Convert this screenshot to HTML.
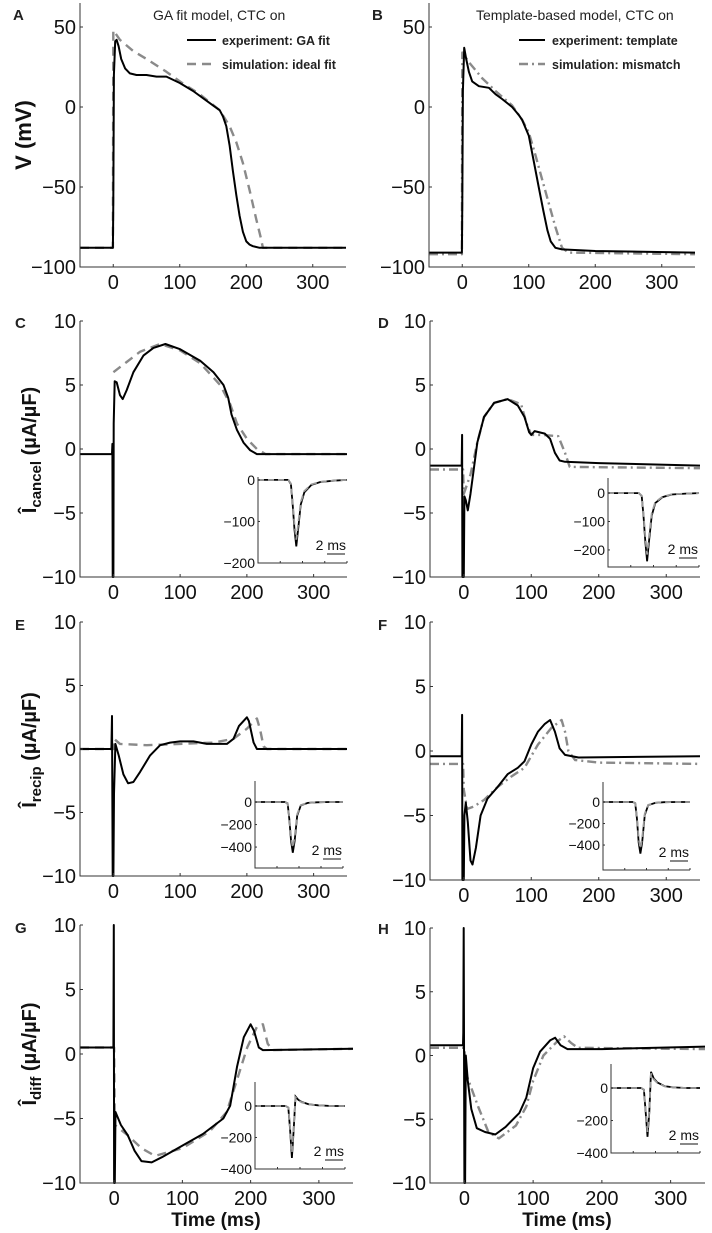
<!DOCTYPE html>
<html><head><meta charset="utf-8"><style>
html,body{margin:0;padding:0;background:#fff}
svg{display:block;font-family:"Liberation Sans",sans-serif}
</style></head><body>
<svg id="fig" width="712" height="1233" viewBox="0 0 712 1233" xmlns="http://www.w3.org/2000/svg"></svg>
<script>
const xTicks=[0,100,200,300];
const vTicks=[50,0,-50,-100];
const iTicks=[10,5,0,-5,-10];
const tickLabelsV=["50","0","\u221250","\u2212100"];
const tickLabelsI=["10","5","0","\u22125","\u221210"];

const tA_exp=[-50,-0.5,0,1,3,5,8,12,18,25,35,50,65,80,100,120,140,150,160,165,170,175,180,185,190,195,200,205,210,220,250,300,350];
const vA_exp=[-88,-88,-60,20,41,42,38,30,24,21,20,20,19,19,15,10,4,1,-2,-6,-12,-24,-40,-55,-68,-78,-84,-86,-87,-88,-88,-88,-88];
const tA_sim=[-50,-0.5,0,10,30,50,80,100,130,160,175,185,195,205,215,222,225,350];
const vA_sim=[-88,-88,48,42,35,30,22,16,8,-2,-12,-22,-35,-52,-70,-82,-88,-88];

const tB_exp=[-50,-0.5,0,1,3,6,10,15,25,40,50,60,75,85,90,100,108,115,122,128,133,140,150,200,350];
const vB_exp=[-91,-91,-60,10,37,30,22,16,13,12,8,5,0,-5,-8,-18,-35,-50,-65,-77,-84,-88,-89,-90,-91];
const tB_sim=[-50,-0.5,0,10,30,50,75,90,100,110,120,130,140,150,160,350];
const vB_sim=[-92,-92,34,28,18,10,1,-8,-16,-30,-45,-60,-75,-88,-91,-92];

const tC_exp=[-50,-2,-1.5,-1,0,0.5,2,5,10,14,20,30,45,60,78,100,130,150,165,172,177,185,195,205,215,350];
const vC_exp=[-0.4,-0.4,0.4,-10,-10,2,5.3,5.2,4.2,3.9,4.6,6,7.3,7.9,8.2,7.8,6.9,6,5,4,2.7,1.5,0.5,-0.1,-0.4,-0.4];
const tC_sim=[0,20,40,70,100,130,160,175,185,200,215,228,350];
const vC_sim=[6,6.8,7.6,8.2,7.7,6.7,5,3.5,2,0.8,0,-0.4,-0.4];

const tD_exp=[-50,-3,-2.5,-2,0,1,3,6,10,15,20,30,45,65,80,90,97,100,105,120,128,135,142,150,200,350];
const vD_exp=[-1.3,-1.3,1.1,-10,-10,-3.7,-4,-4.8,-3.5,-1.5,0.5,2.5,3.6,3.9,3.4,2.5,1.3,1.1,1.4,1.2,0.8,-0.3,-0.9,-1.0,-1.1,-1.3];
const tD_sim=[-50,-1,0,10,20,30,45,65,85,93,100,115,140,150,157,350];
const vD_sim=[-1.6,-1.6,-3.5,-2,0.5,2.5,3.6,3.9,3.5,2,1.1,1.1,1.0,-0.3,-1.4,-1.5];

const tE_exp=[-50,-3,-2,-1,0,1,3,8,15,22,30,40,55,70,85,100,120,140,170,180,188,200,203,210,215,350];
const vE_exp=[0,0,2.6,-10,-10,-3.5,0.4,-0.5,-2,-2.7,-2.6,-1.8,-0.5,0.3,0.5,0.6,0.6,0.4,0.4,0.8,1.8,2.5,2.2,0.5,0,0];
const tE_sim=[-50,0,1,10,50,100,150,180,200,215,220,225,230,350];
const vE_sim=[0,0,0.8,0.4,0.3,0.4,0.5,0.8,1.6,2.4,1.5,0.2,0,0];

const tF_exp=[-50,-3,-2.5,-2,0,1,3,6,10,13,18,25,35,50,65,80,90,100,110,120,128,135,142,150,170,350];
const vF_exp=[-0.4,-0.4,2.8,-10,-10,-5,-4,-5.5,-8.5,-8.8,-7.5,-5,-3.7,-2.8,-1.8,-1.3,-0.8,0.5,1.5,2.1,2.4,1.5,0.2,-0.3,-0.5,-0.4];
const tF_sim=[-50,-1,0,5,15,30,50,70,90,110,130,145,150,155,165,200,350];
const vF_sim=[-1,-1,-3,-4.5,-4.3,-3.8,-2.8,-2,-1.3,0.5,1.8,2.4,1.5,0,-0.7,-0.9,-1];

const tG_exp=[-50,-1,-0.5,0,1,2,10,20,30,40,55,70,100,130,160,170,175,180,190,200,205,212,218,350];
const vG_exp=[0.5,0.5,10,-10,-10,-4.5,-5.5,-6.3,-7.5,-8.3,-8.4,-8,-7.1,-6.2,-5,-4,-2.5,-1,1.3,2.3,1.8,0.5,0.3,0.4];
const tG_sim=[-50,0,1,20,40,60,100,140,165,180,195,210,218,225,232,350];
const vG_sim=[0.5,0.5,-5.5,-6.3,-7.3,-7.9,-7.3,-6,-4.5,-2,0.5,2.2,2.3,0.8,0.3,0.4];

const tH_exp=[-50,-2,-1.5,-1,0,1,2,5,10,18,30,45,60,80,90,100,110,125,132,140,150,200,350];
const vH_exp=[0.8,0.8,1.8,10,-10,-10,0,-2,-4.2,-5.7,-6,-6.2,-5.6,-4.5,-3.3,-1,0.3,1.2,1.4,0.8,0.5,0.5,0.7];
const tH_sim=[-50,0,3,20,35,50,75,90,100,115,135,145,155,165,350];
const vH_sim=[0.6,0.6,-1.5,-4,-6,-6.5,-5.5,-4,-2,0,1.1,1.5,1,0.6,0.5];

const tIn=[0,3.4,3.7,3.9,4.1,4.3,4.5,4.8,5.2,6,7,8.5,10];
const vInC=[0,0,-10,-60,-120,-160,-120,-60,-30,-12,-5,-2,0];
const vInD=[0,0,-10,-80,-170,-240,-170,-80,-35,-14,-5,-2,0];
const vInE=[0,0,-10,-150,-350,-450,-350,-120,-30,-8,-2,0,0];
const vInF=[0,0,-10,-150,-380,-480,-380,-120,-30,-8,-2,0,0];
const tInDiff=[0,3.4,3.7,3.9,4.1,4.3,4.5,4.8,5.2,6,7,8.5,10];
const vInG=[0,0,-10,-150,-330,-150,60,40,25,10,4,0,0];
const vInH=[0,0,-10,-150,-300,-150,100,60,35,12,4,0,0];

const NS="http://www.w3.org/2000/svg";
const svg=document.getElementById('fig');
function mk(tag,attrs,parent){const e=document.createElementNS(NS,tag);for(const k in attrs)e.setAttribute(k,attrs[k]);(parent||svg).appendChild(e);return e;}
function scale(d0,d1,p0,p1){return v=>p0+(v-d0)/(d1-d0)*(p1-p0);}

function panel(id,cfg){
  const g=mk('g',{});
  
  
  const X=scale(-50,350,cfg.x0,cfg.x1), Y=scale(cfg.ymax,cfg.ymin,cfg.y0,cfg.y1);
  const cx=v=>Math.max(cfg.y0,Math.min(cfg.y1,Y(v)));
  function line(ts,vs,opts,name){
    let d='';ts.forEach((t,i)=>{d+=(i?'L':'M')+X(t).toFixed(1)+','+cx(vs[i]).toFixed(1);});
    const p=mk('path',Object.assign({d:d,fill:'none','stroke-linejoin':'round'},opts),g);
    
    
  }
  line(cfg.ts,cfg.vs,{stroke:'#8a8a8a','stroke-width':2.4,'stroke-dasharray':cfg.dash},'simulation-line');
  line(cfg.te,cfg.ve,{stroke:'#000','stroke-width':2},'experiment-line');
  const ax=mk('path',{d:`M${cfg.x0},${cfg.y0}V${cfg.y1}H${cfg.x1}`,fill:'none',stroke:'#333','stroke-width':1},g);
  
  
  xTicks.forEach(t=>{
    mk('line',{x1:X(t),x2:X(t),y1:cfg.y1,y2:cfg.y1-3,stroke:'#333'},g);
    const tx=mk('text',{x:X(t),y:cfg.y1+22,'font-size':20,'text-anchor':'middle',fill:'#111'},g);
    tx.textContent=t;
    
    
  });
  cfg.yt.forEach((v,i)=>{
    mk('line',{x1:cfg.x0,x2:cfg.x0+3,y1:Y(v),y2:Y(v),stroke:'#333'},g);
    const tx=mk('text',{x:cfg.x0-4,y:Y(v)+7,'font-size':20,'text-anchor':'end',fill:'#111'},g);
    tx.textContent=cfg.yl[i];
    
    
  });
  const L=mk('text',{x:cfg.lx,y:cfg.ly,'font-size':15,'font-weight':'bold',fill:'#222'},g);
  L.textContent=id;
  
  
  if(cfg.inset){
    const n=cfg.inset;
    const ig=mk('g',{},g);
    
    
    const IX=scale(0,10,n.x0,n.x1), IY=scale(n.ymax,n.ymin,n.y0,n.y1);
    function il(vs,opts){let d='';n.t.forEach((t,i)=>{d+=(i?'L':'M')+IX(t).toFixed(1)+','+IY(vs[i]).toFixed(1);});mk('path',Object.assign({d:d,fill:'none'},opts),ig);}
    il(n.v,{stroke:'#000','stroke-width':1.8});
    il(n.v.map(v=>v*0.9),{stroke:'#999','stroke-width':1.8,'stroke-dasharray':'6,4'});
    mk('path',{d:`M${n.x0},${n.y0}V${n.y1}H${n.x1}`,fill:'none',stroke:'#333'},ig);
    [0,2.5,5,7.5,10].forEach(t=>mk('line',{x1:IX(t),x2:IX(t),y1:n.y1,y2:n.y1-2,stroke:'#333'},ig));
    n.yt.forEach(v=>{
      mk('line',{x1:n.x0,x2:n.x0+2,y1:IY(v),y2:IY(v),stroke:'#333'},ig);
      const tx=mk('text',{x:n.x0-3,y:IY(v)+5,'font-size':14,'text-anchor':'end',fill:'#111'},ig);
      tx.textContent=v<0?'\u2212'+(-v):String(v);
      
      
    });
    const sb=mk('line',{x1:n.x1-20,x2:n.x1-2,y1:n.y1-9,y2:n.y1-9,stroke:'#111','stroke-width':1},ig);
    
    
    const st=mk('text',{x:n.x1-1,y:n.y1-13,'font-size':14,'text-anchor':'end',fill:'#111'},ig);
    st.textContent='2 ms';
    
    
  }
}

const dashG='9,6', dashT='9,4,2,4';
panel('A',{x0:80,x1:346,y0:3,y1:267,ymax:65,ymin:-100,yt:vTicks,yl:tickLabelsV,te:tA_exp,ve:vA_exp,ts:tA_sim,vs:vA_sim,dash:dashG,lx:13,ly:20});
panel('B',{x0:429,x1:695,y0:3,y1:267,ymax:65,ymin:-100,yt:vTicks,yl:tickLabelsV,te:tB_exp,ve:vB_exp,ts:tB_sim,vs:vB_sim,dash:dashT,lx:372,ly:20});
panel('C',{x0:80,x1:347,y0:321,y1:577,ymax:10,ymin:-10,yt:iTicks,yl:tickLabelsI,te:tC_exp,ve:vC_exp,ts:tC_sim,vs:vC_sim,dash:dashG,lx:15,ly:328,
  inset:{x0:258,x1:347,y0:477,y1:563,ymax:7,ymin:-200,yt:[0,-100,-200],t:tIn,v:vInC}});
panel('D',{x0:430,x1:700,y0:321,y1:577,ymax:10,ymin:-10,yt:iTicks,yl:tickLabelsI,te:tD_exp,ve:vD_exp,ts:tD_sim,vs:vD_sim,dash:dashT,lx:378,ly:328,
  inset:{x0:608,x1:699,y0:478,y1:567,ymax:53,ymin:-260,yt:[0,-100,-200],t:tIn,v:vInD}});
panel('E',{x0:80,x1:347,y0:622,y1:876,ymax:10,ymin:-10,yt:iTicks,yl:tickLabelsI,te:tE_exp,ve:vE_exp,ts:tE_sim,vs:vE_sim,dash:dashG,lx:15,ly:630,
  inset:{x0:255,x1:343,y0:781,y1:868,ymax:187,ymin:-586,yt:[0,-200,-400],t:tIn,v:vInE}});
panel('F',{x0:430,x1:700,y0:622,y1:880,ymax:10,ymin:-10,yt:iTicks,yl:tickLabelsI,te:tF_exp,ve:vF_exp,ts:tF_sim,vs:vF_sim,dash:dashT,lx:378,ly:630,
  inset:{x0:603,x1:690,y0:782,y1:870,ymax:186,ymin:-632,yt:[0,-200,-400],t:tIn,v:vInF}});
panel('G',{x0:80,x1:353,y0:925,y1:1183,ymax:10,ymin:-10,yt:iTicks,yl:tickLabelsI,te:tG_exp,ve:vG_exp,ts:tG_sim,vs:vG_sim,dash:dashG,lx:15,ly:933,
  inset:{x0:255,x1:345,y0:1082,y1:1169,ymax:152,ymin:-400,yt:[0,-200,-400],t:tInDiff,v:vInG}});
panel('H',{x0:430,x1:705,y0:928,y1:1183,ymax:10,ymin:-10,yt:iTicks,yl:tickLabelsI,te:tH_exp,ve:vH_exp,ts:tH_sim,vs:vH_sim,dash:dashT,lx:378,ly:934,
  inset:{x0:611,x1:700,y0:1064,y1:1153,ymax:148,ymin:-400,yt:[0,-200,-400],t:tInDiff,v:vInH}});
</script>
<svg style="position:absolute;left:0;top:0" width="712" height="1233">
  <text x="153" y="20" font-size="14" fill="#222" font-family="Liberation Sans, sans-serif">GA fit model, CTC on</text>
  <text x="476" y="20" font-size="14" fill="#222" font-family="Liberation Sans, sans-serif">Template-based model, CTC on</text>
  <g font-family="Liberation Sans, sans-serif" font-size="12.5" font-weight="bold" fill="#222">
    <line x1="187" y1="40" x2="216" y2="40" stroke="#000" stroke-width="2"/>
    <text x="222" y="45">experiment: GA fit</text>
    <line x1="187" y1="64" x2="216" y2="64" stroke="#8a8a8a" stroke-width="2.4" stroke-dasharray="9,6"/>
    <text x="222" y="69">simulation: ideal fit</text>
  </g>
  <g font-family="Liberation Sans, sans-serif" font-size="12.5" font-weight="bold" fill="#222">
    <line x1="519" y1="40" x2="545" y2="40" stroke="#000" stroke-width="2"/>
    <text x="552" y="45">experiment: template</text>
    <line x1="519" y1="64" x2="545" y2="64" stroke="#8a8a8a" stroke-width="2.4" stroke-dasharray="9,4,2,4"/>
    <text x="552" y="69">simulation: mismatch</text>
  </g>
  <g font-family="Liberation Sans, sans-serif" font-weight="bold" fill="#111">
    <text transform="translate(31,135) rotate(-90)" text-anchor="middle" font-size="22">V (mV)</text>
    <text transform="translate(36,450) rotate(-90)" text-anchor="middle" font-size="20">Î<tspan font-size="15" dy="5">cancel</tspan><tspan dy="-5"> (µA/µF)</tspan></text>
    <text transform="translate(36,750) rotate(-90)" text-anchor="middle" font-size="20">Î<tspan font-size="15" dy="5">recip</tspan><tspan dy="-5"> (µA/µF)</tspan></text>
    <text transform="translate(36,1054) rotate(-90)" text-anchor="middle" font-size="20">Î<tspan font-size="15" dy="5">diff</tspan><tspan dy="-5"> (µA/µF)</tspan></text>
    <text x="216" y="1226" text-anchor="middle" font-size="19">Time (ms)</text>
    <text x="567" y="1226" text-anchor="middle" font-size="19">Time (ms)</text>
  </g>
</svg>
</body></html>
